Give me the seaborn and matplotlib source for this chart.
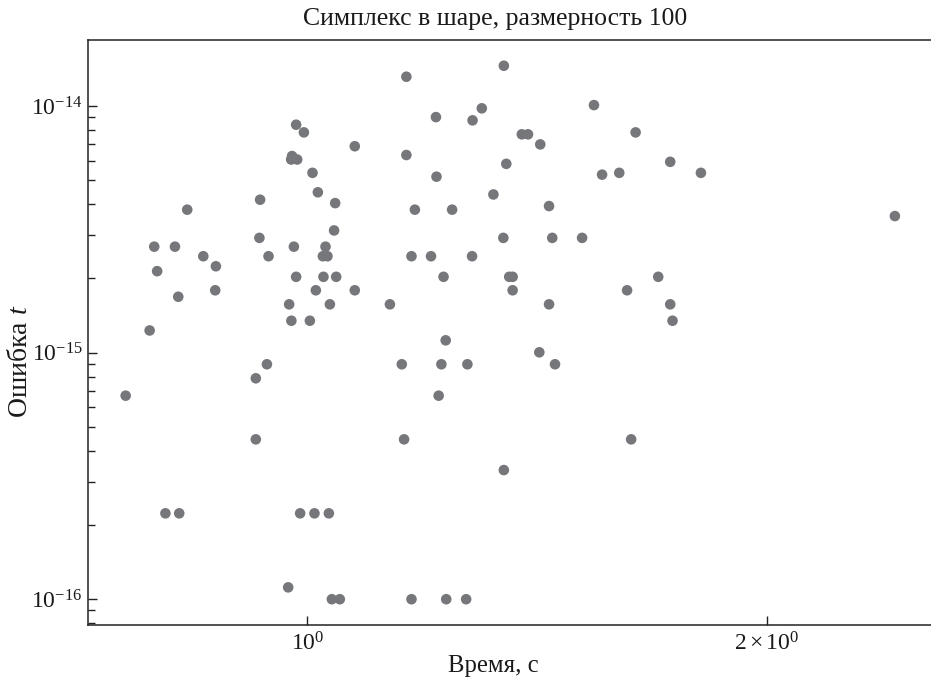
import numpy as np
import pandas as pd
import matplotlib
matplotlib.use("Agg")
import matplotlib.pyplot as plt
from matplotlib.ticker import NullLocator, NullFormatter, FixedLocator, FixedFormatter, LogLocator
import seaborn as sns

# Data (time in s, error)
time_s = [
    1.161, 1.345, 1.214, 1.301, 1.283, 0.983, 0.9946, 1.382, 1.395, 1.074,
    0.977, 0.9757, 0.9846, 1.161, 1.350, 1.0076, 1.215, 1.0158, 1.324, 0.931,
    1.0427, 0.834, 1.176, 1.244, 1.041, 0.930, 1.344, 0.7935, 0.8187, 0.9797,
    1.0276, 0.8545, 0.9429, 1.0235, 1.0306, 1.170, 1.205, 1.282, 0.8709, 0.797,
    0.983, 1.0244, 1.0443, 1.228, 1.356, 1.363, 0.8228, 0.870, 1.0127, 1.074,
    1.363, 0.9727, 1.0344, 1.1325, 0.976, 1.0036, 0.788, 1.232,
    1.541, 1.421, 1.641, 1.729, 1.560, 1.601, 1.811, 1.440, 2.427, 1.447,
    1.5136, 1.698, 1.620, 1.440, 1.729, 1.735, 1.419,
    0.760, 0.925, 0.9406, 1.153, 1.224, 1.273, 1.219, 0.925, 1.157, 1.345,
    0.807, 0.824, 0.989, 1.0106, 1.0328, 0.9713, 1.0375, 1.050, 1.170, 1.233,
    1.2706, 1.453, 1.630,
]
error_t = [
    1.315e-14, 1.457e-14, 9.02e-15, 9.79e-15, 8.75e-15, 8.40e-15, 7.82e-15, 7.68e-15, 7.68e-15, 6.87e-15,
    6.27e-15, 6.07e-15, 6.07e-15, 6.33e-15, 5.83e-15, 5.36e-15, 5.17e-15, 4.47e-15, 4.38e-15, 4.17e-15,
    4.04e-15, 3.80e-15, 3.80e-15, 3.80e-15, 3.13e-15, 2.92e-15, 2.92e-15, 2.69e-15, 2.69e-15, 2.69e-15,
    2.69e-15, 2.46e-15, 2.46e-15, 2.46e-15, 2.46e-15, 2.46e-15, 2.46e-15, 2.46e-15, 2.24e-15, 2.14e-15,
    2.03e-15, 2.03e-15, 2.03e-15, 2.03e-15, 2.03e-15, 2.03e-15, 1.685e-15, 1.79e-15, 1.79e-15, 1.79e-15,
    1.79e-15, 1.57e-15, 1.57e-15, 1.57e-15, 1.347e-15, 1.347e-15, 1.23e-15, 1.122e-15,
    1.009e-14, 6.99e-15, 7.82e-15, 5.94e-15, 5.27e-15, 5.36e-15, 5.36e-15, 3.93e-15, 3.58e-15, 2.92e-15,
    2.92e-15, 2.03e-15, 1.79e-15, 1.57e-15, 1.57e-15, 1.347e-15, 1.003e-15,
    6.69e-16, 7.87e-16, 8.97e-16, 8.97e-16, 8.97e-16, 8.97e-16, 6.69e-16, 4.45e-16, 4.45e-16, 3.34e-16,
    2.23e-16, 2.23e-16, 2.23e-16, 2.23e-16, 2.23e-16, 1.117e-16, 1.0e-16, 1.0e-16, 1.0e-16, 1.0e-16,
    1.0e-16, 8.97e-16, 4.45e-16,
]

x_ticks = [1.0, 2.0]
x_tick_labels = [r"$10^{0}$", r"$2\times10^{0}$"]
y_ticks = [1e-16, 1e-15, 1e-14]
y_tick_labels = [r"$10^{-16}$", r"$10^{-15}$", r"$10^{-14}$"]

title = "Симплекс в шаре, размерность 100"
xlabel = "Время, с"
ylabel = r"Ошибка $t$"

df = pd.DataFrame({"time": time_s, "error": error_t})

sns.set_theme(style="white")
plt.rcParams["font.family"] = ["Liberation Serif", "DejaVu Serif"]
plt.rcParams["mathtext.fontset"] = "custom"
plt.rcParams["mathtext.rm"] = "Liberation Serif"
plt.rcParams["mathtext.it"] = "Liberation Serif:italic"
plt.rcParams["mathtext.bf"] = "Liberation Serif:bold"

fig = plt.figure(figsize=(9.31, 6.86), dpi=100)
W, H = 931, 686
ax = fig.add_axes([88 / W, 1 - 625 / H, (931 - 88) / W, (625 - 40) / H])

sns.scatterplot(data=df, x="time", y="error", ax=ax, s=58, color="#76777b",
                edgecolor="none", linewidth=0, legend=False)

ax.set_xscale("log")
ax.set_yscale("log")
ax.set_xlim(0.718, 2.563)
ax.set_ylim(7.86e-17, 1.853e-14)

ax.xaxis.set_major_locator(FixedLocator(x_ticks))
ax.xaxis.set_major_formatter(FixedFormatter(x_tick_labels))
ax.xaxis.set_minor_locator(NullLocator())
ax.xaxis.set_minor_formatter(NullFormatter())

ax.yaxis.set_major_locator(FixedLocator(y_ticks))
ax.yaxis.set_major_formatter(FixedFormatter(y_tick_labels))
ax.yaxis.set_minor_locator(LogLocator(base=10, subs=np.arange(2, 10)))
ax.yaxis.set_minor_formatter(NullFormatter())

ax.tick_params(axis="both", which="both", bottom=True, left=True, top=False, right=False)
ax.tick_params(axis="both", which="major", direction="in", length=6.5, width=1.0,
               color="#222222", labelsize=17, labelcolor="#1a1a1a", pad=4)
ax.tick_params(axis="both", which="minor", direction="in", length=5.0, width=1.0,
               color="#222222")
ax.tick_params(axis="x", which="major", pad=5)

for side in ["left", "bottom", "top"]:
    ax.spines[side].set_visible(True)
    ax.spines[side].set_color("#222222")
    ax.spines[side].set_linewidth(1.1)
ax.spines["right"].set_visible(False)

ax.set_xlabel(xlabel, fontsize=17.8, color="#1a1a1a")
ax.xaxis.set_label_coords((493 - 88) / 843, (625 - 655) / 585)
ax.set_ylabel(ylabel, fontsize=20, color="#1a1a1a")
ax.yaxis.set_label_coords((33 - 88) / 843, (625 - 361) / 585)
fig.text(495.5 / W, 1 - 25 / H, title, ha="center", va="baseline", fontsize=18.5, color="#1a1a1a")

fig.savefig("out.png", dpi=100)
